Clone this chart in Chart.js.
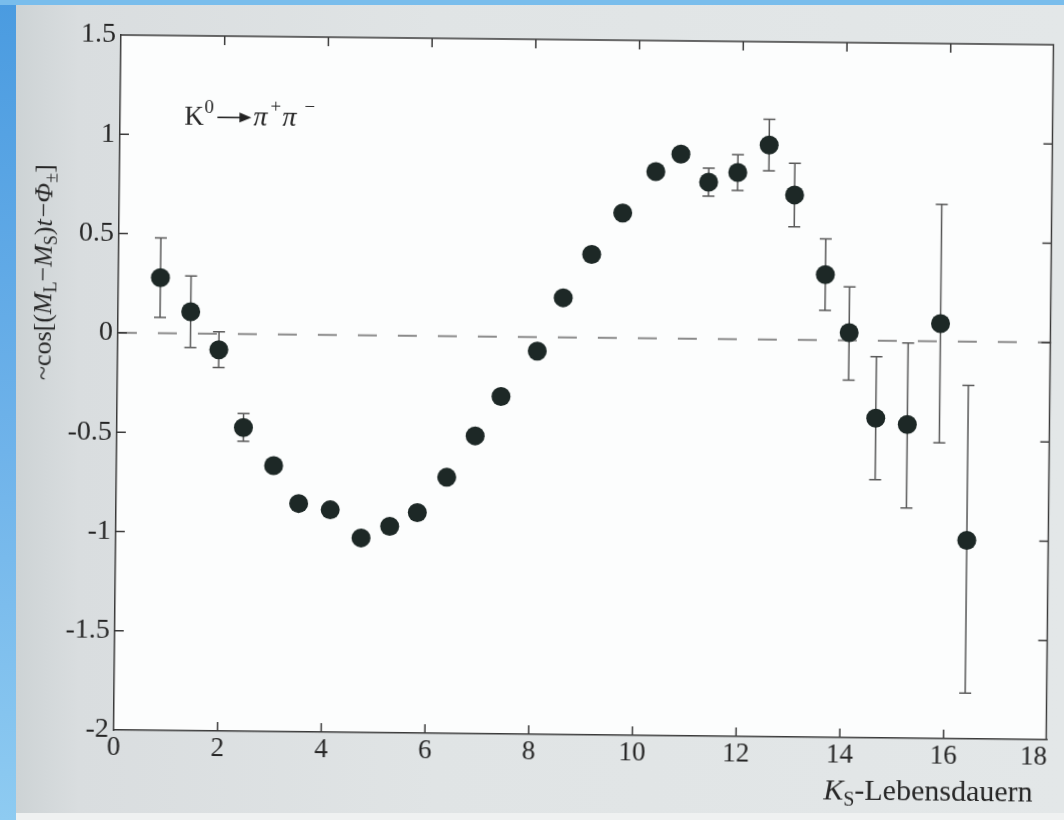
<!DOCTYPE html>
<html>
<head>
<meta charset="utf-8">
<script src="https://cdn.jsdelivr.net/npm/chart.js@4.4.1/dist/chart.umd.min.js"></script>
<style>
html,body{margin:0;padding:0;overflow:hidden;}
body{width:1064px;height:820px;position:relative;background:linear-gradient(180deg,#4a9be0 0%,#6fb3ea 55%,#8ecbf1 100%);}
#topstrip{position:absolute;left:0;top:0;width:1064px;height:5px;background:#79bdec;}
#page{position:absolute;left:16px;top:5px;width:1048px;height:808px;background:linear-gradient(90deg,#cdd3d5 0%,#d9dddf 6%,#e0e4e5 40%,#e3e7e8 100%);}
#foot{position:absolute;left:16px;top:813px;width:1048px;height:7px;background:#eff1f1;}
#c{position:absolute;left:0;top:0;transform:rotate(0.6deg);transform-origin:121px 35px;}
</style>
</head>
<body>
<div id="topstrip"></div>
<div id="page"></div>
<div id="foot"></div>
<canvas id="c" width="1064" height="820"></canvas>
<script>
// ---------- data ----------
const lifetimes = [0.81,1.40,1.95,2.44,3.03,3.52,4.13,4.73,5.28,5.81,6.37,6.91,7.40,8.09,8.58,9.12,9.71,10.34,10.82,11.36,11.92,12.52,13.02,13.63,14.10,14.63,15.24,15.86,16.41];
const asymmetry = [0.28,0.11,-0.08,-0.47,-0.66,-0.85,-0.88,-1.02,-0.96,-0.89,-0.71,-0.50,-0.30,-0.07,0.20,0.42,0.63,0.84,0.93,0.79,0.84,0.98,0.73,0.33,0.04,-0.39,-0.42,0.09,-1.00];
const errUpper = [0.48,0.29,0.01,-0.40,null,null,null,null,null,null,null,null,null,null,null,null,null,null,null,0.86,0.93,1.11,0.89,0.51,0.27,-0.08,-0.01,0.69,-0.22];
const errLower = [0.08,-0.07,-0.17,-0.54,null,null,null,null,null,null,null,null,null,null,null,null,null,null,null,0.72,0.75,0.85,0.57,0.15,-0.20,-0.70,-0.84,-0.51,-1.77];
const zeroLineX = [0, 18];
const zeroLineY = [0, 0];
const xTicks = [0,2,4,6,8,10,12,14,16,18];
const xTickLabels = ['0','2','4','6','8','10','12','14','16','18\u2003'];
const yTicks = [-2,-1.5,-1,-0.5,0,0.5,1,1.5];
const yTickLabels = ['-2','-1.5','-1','-0.5','0','0.5','1','1.5'];
const annotationPos = {x: 1.24, y: 1.05};

// ---------- styling ----------
const SERIF = "'Liberation Serif','Times New Roman',serif";
const INK = '#262626';

function drawRich(ctx, pieces, x, y, align){
  let w = 0;
  pieces.forEach(p => {
    ctx.font = (p.italic ? 'italic ' : '') + p.size + 'px ' + SERIF;
    p.w = ctx.measureText(p.t).width + (p.gap || 0);
    w += p.w;
  });
  let cx = align === 'center' ? x - w/2 : (align === 'right' ? x - w : x);
  pieces.forEach(p => {
    ctx.font = (p.italic ? 'italic ' : '') + p.size + 'px ' + SERIF;
    ctx.fillText(p.t, cx, y + (p.dy || 0));
    cx += p.w;
  });
}

const figurePlugin = {
  id: 'figure',
  beforeDraw(chart){
    const {ctx, chartArea:a} = chart;
    ctx.save();
    ctx.fillStyle = '#fcfdfd';
    ctx.fillRect(a.left, a.top, a.right - a.left, a.bottom - a.top);
    ctx.restore();
  },
  beforeDatasetsDraw(chart){
    const {ctx} = chart;
    const xs = chart.scales.x, ys = chart.scales.y;
    ctx.save();
    ctx.strokeStyle = '#585858';
    ctx.lineWidth = 1.5;
    lifetimes.forEach((t, i) => {
      if (errUpper[i] === null) return;
      const px = xs.getPixelForValue(t);
      const y1 = ys.getPixelForValue(errUpper[i]);
      const y2 = ys.getPixelForValue(errLower[i]);
      ctx.beginPath();
      ctx.moveTo(px, y1); ctx.lineTo(px, y2);
      ctx.moveTo(px-6, y1); ctx.lineTo(px+6, y1);
      ctx.moveTo(px-6, y2); ctx.lineTo(px+6, y2);
      ctx.stroke();
    });
    ctx.restore();
  },
  afterDraw(chart){
    const {ctx, chartArea:a} = chart;
    const xs = chart.scales.x, ys = chart.scales.y;
    ctx.save();
    ctx.strokeStyle = '#3a3a3a';
    ctx.lineWidth = 1.5;
    ctx.beginPath();
    ctx.moveTo(a.left, a.top); ctx.lineTo(a.right - 1, a.top); ctx.lineTo(a.right - 1, a.bottom);
    ctx.stroke();
    // inward ticks on all four sides
    ctx.beginPath();
    xTicks.slice(1,-1).forEach(v => {
      const p = xs.getPixelForValue(v);
      ctx.moveTo(p, a.bottom); ctx.lineTo(p, a.bottom-9);
      ctx.moveTo(p, a.top); ctx.lineTo(p, a.top+9);
    });
    yTicks.slice(1,-1).forEach(v => {
      const p = ys.getPixelForValue(v);
      ctx.moveTo(a.left, p); ctx.lineTo(a.left+9, p);
      ctx.moveTo(a.right-1, p); ctx.lineTo(a.right-10, p);
    });
    ctx.stroke();

    ctx.fillStyle = INK;
    ctx.textBaseline = 'alphabetic';
    // x axis title
    drawRich(ctx, [
      {t:'K', size:30, italic:true},
      {t:'S', size:20, dy:6},
      {t:'-Lebensdauern', size:30}
    ], a.right - 14, a.bottom + 62, 'right');

    // y axis title (rotated)
    ctx.save();
    ctx.translate(54, 273);
    ctx.rotate(-Math.PI/2);
    drawRich(ctx, [
      {t:'~cos[(', size:26},
      {t:'M', size:26, italic:true},
      {t:'L', size:18, dy:5},
      {t:'\u2212', size:26},
      {t:'M', size:26, italic:true},
      {t:'S', size:18, dy:5},
      {t:')', size:26},
      {t:'t', size:26, italic:true, gap:2},
      {t:'\u2212', size:26},
      {t:'\u03A6', size:26, italic:true},
      {t:'\u00B1', size:18, dy:5},
      {t:']', size:26}
    ], 0, 0, 'center');
    ctx.restore();

    // annotation  K0 -> pi+ pi-
    const ax = xs.getPixelForValue(annotationPos.x);
    const ay = ys.getPixelForValue(annotationPos.y);
    ctx.font = '27px ' + SERIF;
    ctx.fillText('K', ax, ay);
    ctx.font = '19px ' + SERIF;
    ctx.fillText('0', ax + 20, ay - 12);
    ctx.strokeStyle = '#222';
    ctx.lineWidth = 1.6;
    ctx.beginPath();
    ctx.moveTo(ax + 33, ay - 8); ctx.lineTo(ax + 58, ay - 8);
    ctx.stroke();
    ctx.beginPath();
    ctx.moveTo(ax + 67, ay - 8); ctx.lineTo(ax + 55, ay - 13); ctx.lineTo(ax + 55, ay - 3); ctx.closePath();
    ctx.fillStyle = '#222'; ctx.fill();
    ctx.fillStyle = INK;
    ctx.font = 'italic 28px ' + SERIF;
    ctx.fillText('\u03C0', ax + 69, ay);
    ctx.font = '19px ' + SERIF;
    ctx.fillText('+', ax + 86, ay - 13);
    ctx.font = 'italic 28px ' + SERIF;
    ctx.fillText('\u03C0', ax + 98, ay);
    ctx.font = '19px ' + SERIF;
    ctx.fillText('\u2212', ax + 120, ay - 13);
    ctx.restore();
  }
};

const points = lifetimes.map((t, i) => ({x: t, y: asymmetry[i]}));
const zeroLine = zeroLineX.map((x, i) => ({x: x, y: zeroLineY[i]}));

new Chart(document.getElementById('c'), {
  type: 'scatter',
  data: {
    datasets: [
      {
        type: 'scatter',
        data: points,
        pointRadius: 9.5,
        pointBackgroundColor: '#1d2826',
        pointBorderWidth: 0,
        order: 0
      },
      {
        type: 'line',
        data: zeroLine,
        borderColor: '#8a8a8a',
        borderWidth: 2,
        borderDash: [19, 21],
        pointRadius: 0,
        fill: false,
        order: 1
      }
    ]
  },
  options: {
    responsive: false,
    animation: false,
    devicePixelRatio: 1,
    events: [],
    layout: {padding: {left: 0, right: 0, top: 35, bottom: 0}},
    plugins: {legend: {display: false}, tooltip: {enabled: false}},
    scales: {
      x: {
        type: 'linear', min: 0, max: 18,
        afterBuildTicks: s => { s.ticks = xTicks.map(v => ({value: v})); },
        ticks: {
          callback: (v, i) => xTickLabels[i],
          font: {family: SERIF, size: 27}, color: INK,
          padding: 2, maxRotation: 0, autoSkip: false
        },
        grid: {display: false, drawTicks: false},
        border: {display: true, color: '#3a3a3a', width: 1.5},
        afterFit: s => { s.height = 90; s.paddingLeft = 0; s.paddingRight = 0; }
      },
      y: {
        type: 'linear', min: -2, max: 1.5,
        afterBuildTicks: s => { s.ticks = yTicks.map(v => ({value: v})); },
        ticks: {
          callback: (v, i) => yTickLabels[i],
          font: {family: SERIF, size: 28}, color: INK,
          padding: 5, autoSkip: false
        },
        grid: {display: false, drawTicks: false},
        border: {display: true, color: '#3a3a3a', width: 1.5},
        afterFit: s => { s.width = 121; s.paddingTop = 0; s.paddingBottom = 0; }
      }
    }
  },
  plugins: [figurePlugin]
});
</script>
</body>
</html>
